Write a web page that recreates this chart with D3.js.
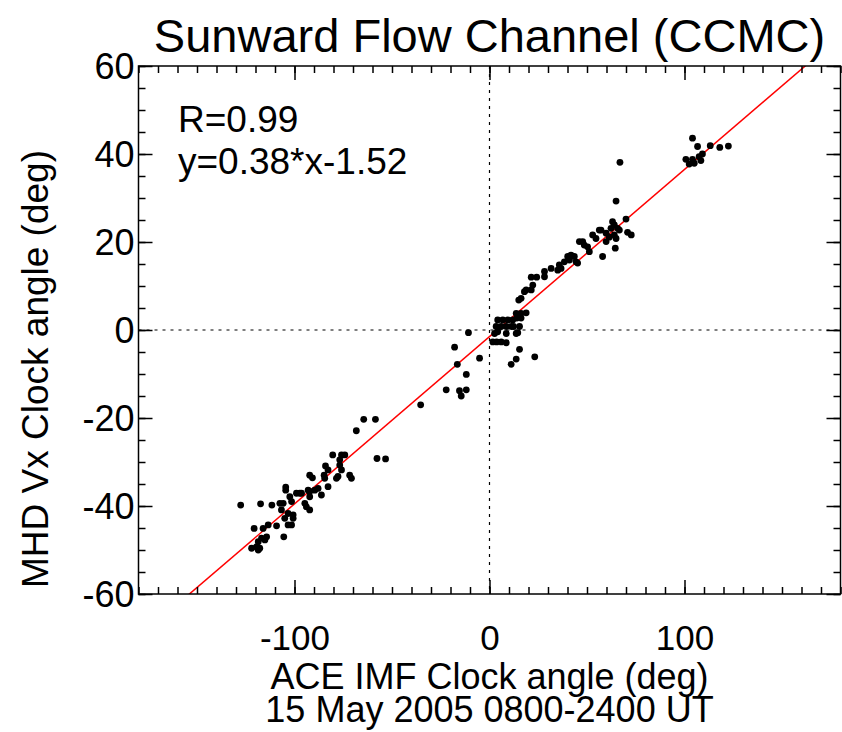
<!DOCTYPE html>
<html>
<head>
<meta charset="utf-8">
<script src="https://cdn.jsdelivr.net/npm/d3@7"></script>
<style>
  body { margin: 0; background: #fff; }
  svg { display: block; font-family: "Liberation Sans", Arial, Helvetica, sans-serif; }
  .axis path, .axis line { stroke: #000; stroke-width: 1.5; }
  .axis text { font-size: 36px; fill: #000; font-family: "Liberation Sans", Arial, Helvetica, sans-serif; }
</style>
</head>
<body>
<svg id="chart"></svg>
<script>
// IMF clock angle (x) vs MHD Vx clock angle (y)
const southPoints = [
  [-127.6,-39.8],[-117.4,-39.5],[-111.6,-39.8],[-80.4,-28.4],[-84.1,-30.9],[-84.8,-33.0],[-92.2,-33.0],
  [-90.8,-33.6],[-104.5,-35.7],[-104.5,-36.4],[-82.8,-35.6],[-89.6,-36.4],[-93.0,-36.4],[-97.3,-37.1],
  [-99.0,-37.1],[-102.4,-37.9],[-92.2,-37.9],[-86.2,-37.5],[-105.8,-39.4],[-107.5,-39.4],[-94.7,-39.4],
  [-101.5,-39.0],[-93.9,-40.2],[-106.7,-40.9],[-92.2,-40.9],[-103.3,-41.7],[-100.7,-42.0],[-105.0,-42.8],
  [-100.7,-42.8],[-103.3,-44.3],[-101.5,-44.3],[-109.2,-44.5],[-113.5,-44.3],[-116.1,-45.1],[-120.7,-45.1],
  [-114.3,-47.0],[-105.5,-47.0],[-116.9,-47.3],[-118.6,-48.1],[-115.2,-47.7],[-119.5,-49.3],[-117.8,-49.6],
  [-122.0,-49.6],[-118.6,-50.0],[-64.5,-20.3],[-58.5,-20.3],[-68.3,-22.9],[-57.7,-29.2],[-53.3,-29.3],
  [-75.9,-28.4],[-74.2,-28.4],[-76.8,-29.5],[-82.8,-31.8],[-76.8,-30.7],[-75.9,-31.8],[-84.5,-33.7],
  [-77.7,-33.3],[-78.5,-33.7],[-71.7,-33.0],[-70.8,-33.7],[-87.9,-36.0],[-96.4,-37.1],[-92.2,-36.7]
];
const centerPoints = [
  [-35.3,-17.0],[-22.2,-13.6],[-15.4,-13.8],[-14.5,-15.0],[-11.9,-13.6],[-11.9,-10.1],[-16.5,-7.8],
  [-17.9,-3.9],[-5.1,-6.4],[-10.8,-0.6],[11.1,-7.8],[13.7,-6.6],[15.4,-4.4],[23.2,-6.1],[1.7,-2.7],
  [3.7,-2.7],[6.0,-2.7],[8.6,-2.9],[2.6,-0.8],[4.2,-0.4],[8.6,-0.8],[13.7,-0.8],[14.5,-0.6],[3.4,0.8],
  [6.0,0.8],[8.6,0.8],[11.1,0.8],[12.3,0.8],[15.4,0.8],[4.2,2.3],[6.8,2.3],[9.4,2.3],[11.9,2.3],
  [14.0,2.7],[16.2,2.7],[13.7,3.8],[16.2,3.8],[18.8,3.9],[15.0,6.8],[16.2,7.2]
];
const northPoints = [
  [17.9,8.7],[18.8,9.1],[21.4,9.1],[22.2,10.2],[21.4,12.0],[24.2,12.0],[28.2,12.1],[28.2,13.3],
  [31.6,14.0],[35.0,13.6],[36.7,14.0],[35.8,14.8],[38.4,15.5],[40.1,16.7],[41.8,17.0],[43.5,16.7],
  [41.0,15.9],[44.4,15.5],[45.2,15.2],[46.1,20.1],[47.8,20.1],[48.6,19.3],[50.3,18.9],[51.2,17.8],
  [52.9,21.6],[54.6,20.8],[58.0,16.7],[56.3,22.7],[59.8,22.0],[59.8,20.1],[66.9,38.1],[64.9,29.3],
  [70.0,25.2],[63.1,24.6],[64.0,23.9],[62.3,23.1],[65.7,23.1],[66.6,22.7],[70.8,22.2],[72.7,21.6],
  [57.2,22.7],[61.4,21.1],[64.0,21.6],[64.9,20.8],[64.5,18.6]
];
const upperPoints = [
  [100.7,38.8],[104.1,43.6],[106.7,41.7],[113.2,41.9],[118.1,41.5],[122.5,41.8],[109.2,40.0],
  [107.5,39.4],[104.1,38.8],[105.0,37.9],[102.4,37.7],[108.4,38.5]
];

const fitSlope = 0.38;
const fitIntercept = -1.52;
const fitR = 0.99;

const xDomain = [-180, 180];
const yDomain = [-60, 60];
const xMajorTicks = [-100, 0, 100];
const yMajorTicks = [-60, -40, -20, 0, 20, 40, 60];
const xMinorTicks = d3.range(-180, 181, 10);
const yMinorTicks = d3.range(-60, 61, 5);

const chartWidth = 842, chartHeight = 732;
const margin = { top: 66, right: 1.5, bottom: 138, left: 138.5 };

const svg = d3.select('#chart').attr('width', chartWidth).attr('height', chartHeight);

const x = d3.scaleLinear().domain(xDomain).range([margin.left, chartWidth - margin.right]);
const y = d3.scaleLinear().domain(yDomain).range([chartHeight - margin.bottom, margin.top]);

const plotBottom = y.range()[0], plotTop = y.range()[1];
const plotLeft = x.range()[0], plotRight = x.range()[1];

// plain hyphen for negatives, like the original
const tickText = d => String(d);

svg.append('defs').append('clipPath').attr('id', 'plot-clip')
  .append('rect')
  .attr('x', plotLeft).attr('y', plotTop)
  .attr('width', plotRight - plotLeft)
  .attr('height', plotBottom - plotTop);

// zero lines
const zero = svg.append('g').attr('stroke', '#000').attr('stroke-width', 1.2).attr('stroke-dasharray', '3,5');
zero.append('line').attr('x1', x(0)).attr('x2', x(0)).attr('y1', y(yDomain[1])).attr('y2', y(yDomain[0]));
zero.append('line').attr('x1', x(xDomain[0])).attr('x2', x(xDomain[1])).attr('y1', y(0)).attr('y2', y(0));

// fit line
svg.append('line')
  .attr('clip-path', 'url(#plot-clip)')
  .attr('x1', x(xDomain[0])).attr('y1', y(fitSlope * xDomain[0] + fitIntercept))
  .attr('x2', x(xDomain[1])).attr('y2', y(fitSlope * xDomain[1] + fitIntercept))
  .attr('stroke', '#ff0000').attr('stroke-width', 1.5);

const allPoints = southPoints.concat(centerPoints, northPoints, upperPoints);
svg.append('g').selectAll('circle')
  .data(allPoints)
  .enter()
  .append('circle')
  .attr('cx', d => x(d[0]))
  .attr('cy', d => y(d[1]))
  .attr('r', 3.4)
  .attr('fill', '#000');

// axes: minor and major ticks on all four sides, pointing inward
svg.append('g').attr('class', 'axis').attr('transform', `translate(0,${plotBottom})`)
  .call(d3.axisBottom(x).tickValues(xMinorTicks).tickSize(-7).tickFormat('').tickSizeOuter(0));
svg.append('g').attr('class', 'axis').attr('transform', `translate(0,${plotBottom})`)
  .call(d3.axisBottom(x).tickValues(xMajorTicks).tickSize(-14).tickFormat(tickText).tickSizeOuter(0))
  .call(g => g.selectAll('text').attr('dy', null).attr('y', 56).style('font-size', '35px'));
svg.append('g').attr('class', 'axis').attr('transform', `translate(0,${plotTop})`)
  .call(d3.axisTop(x).tickValues(xMinorTicks).tickSize(-7).tickFormat('').tickSizeOuter(0));
svg.append('g').attr('class', 'axis').attr('transform', `translate(0,${plotTop})`)
  .call(d3.axisTop(x).tickValues(xMajorTicks).tickSize(-14).tickFormat('').tickSizeOuter(0));

svg.append('g').attr('class', 'axis').attr('transform', `translate(${plotLeft},0)`)
  .call(d3.axisLeft(y).tickValues(yMinorTicks).tickSize(-7).tickFormat('').tickSizeOuter(0));
svg.append('g').attr('class', 'axis').attr('transform', `translate(${plotLeft},0)`)
  .call(d3.axisLeft(y).tickValues(yMajorTicks).tickSize(-14).tickFormat(tickText).tickSizeOuter(0))
  .call(g => g.selectAll('text').attr('x', -4).attr('dy', '0.36em'));
svg.append('g').attr('class', 'axis').attr('transform', `translate(${plotRight},0)`)
  .call(d3.axisRight(y).tickValues(yMinorTicks).tickSize(-7).tickFormat('').tickSizeOuter(0));
svg.append('g').attr('class', 'axis').attr('transform', `translate(${plotRight},0)`)
  .call(d3.axisRight(y).tickValues(yMajorTicks).tickSize(-14).tickFormat('').tickSizeOuter(0));

svg.selectAll('.axis .domain').remove();

// frame
svg.append('rect')
  .attr('x', plotLeft).attr('y', plotTop)
  .attr('width', plotRight - plotLeft).attr('height', plotBottom - plotTop)
  .attr('fill', 'none').attr('stroke', '#000').attr('stroke-width', 1.5);

// texts
svg.append('text')
  .attr('x', (plotLeft + plotRight) / 2).attr('y', 52)
  .attr('text-anchor', 'middle').style('font-size', '47px')
  .text('Sunward Flow Channel (CCMC)');

svg.append('text')
  .attr('x', (plotLeft + plotRight) / 2).attr('y', 689)
  .attr('text-anchor', 'middle').style('font-size', '36px')
  .text('ACE IMF Clock angle (deg)');
svg.append('text')
  .attr('x', (plotLeft + plotRight) / 2).attr('y', 722)
  .attr('text-anchor', 'middle').style('font-size', '36px')
  .text('15 May 2005 0800-2400 UT');

svg.append('text')
  .attr('transform', 'translate(48,369) rotate(-90)')
  .attr('text-anchor', 'middle').style('font-size', '37px')
  .text('MHD Vx Clock angle (deg)');

svg.append('text')
  .attr('x', 178).attr('y', 132).style('font-size', '37px')
  .text('R=' + fitR.toFixed(2));
svg.append('text')
  .attr('x', 178).attr('y', 174).style('font-size', '37px')
  .text('y=' + fitSlope.toFixed(2) + '*x' + fitIntercept.toFixed(2));
</script>
</body>
</html>
